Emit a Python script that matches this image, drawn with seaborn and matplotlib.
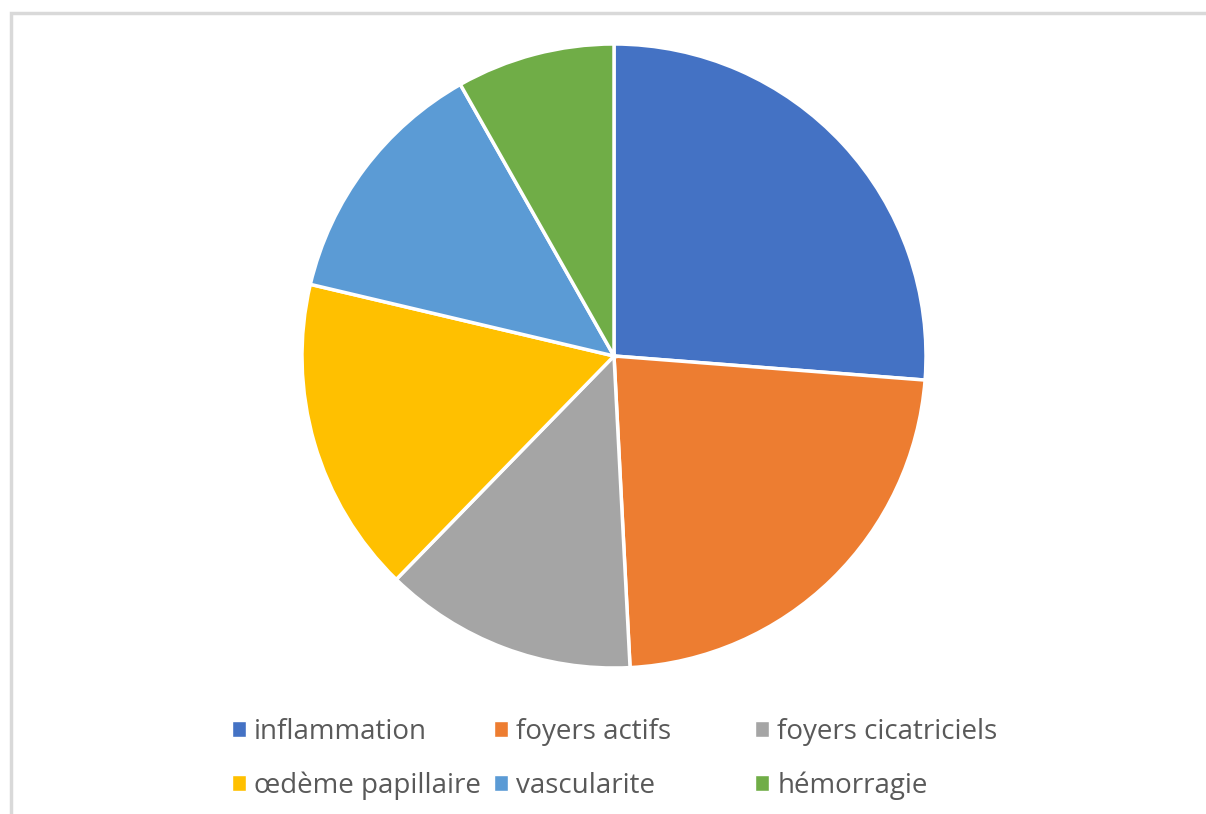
import matplotlib
matplotlib.use("Agg")
import matplotlib.pyplot as plt
from matplotlib.patches import Rectangle, Patch
import seaborn as sns

# Lesion categories and their case counts
categories = ["inflammation", "foyers actifs", "foyers cicatriciels",
              "œdème papillaire", "vascularite", "hémorragie"]
counts = [16, 14, 8, 10, 8, 5]
colors = ["#4472C4", "#ED7D31", "#A5A5A5", "#FFC000", "#5B9BD5", "#70AD47"]

sns.set_theme(style="white")
plt.rcParams["font.family"] = ["Open Sans", "DejaVu Sans"]
palette = sns.color_palette(colors)

W, H = 1206, 814
fig = plt.figure(figsize=(W / 100, H / 100), dpi=100)

# Chart frame: light grey border on the top and left edges
fig.patches.append(Rectangle((10.5 / W, -0.05), 1.2, (H - 13) / H + 0.05,
                             transform=fig.transFigure, fill=False,
                             edgecolor="#d9d9d9", linewidth=2.5))

cx, cy, r = 614, 356, 312
ax = fig.add_axes([(cx - r) / W, (H - cy - r) / H, 2 * r / W, 2 * r / H])
ax.pie(counts, colors=palette, startangle=90, counterclock=False, radius=1,
       wedgeprops=dict(edgecolor="white", linewidth=2.5))
ax.set_xlim(-1, 1)
ax.set_ylim(-1, 1)
ax.set_aspect("equal")
ax.axis("off")

# Legend: three equal-width columns, two rows, filled row by row
handles = [Patch(facecolor=c) for c in palette]
col_x = [232, 494, 755]
for j, x in enumerate(col_x):
    idx = [j, j + 3]
    leg = fig.legend([handles[i] for i in idx], [categories[i] for i in idx],
                     loc="center left", bbox_to_anchor=(x / W, 1 - 759 / H),
                     frameon=False, fontsize=20, handlelength=0.5,
                     handleheight=0.5, handletextpad=0.3, labelspacing=0.92,
                     borderpad=0, borderaxespad=0)
    for t in leg.get_texts():
        t.set_color("#595959")

fig.savefig("out.png", dpi=100, facecolor="white")
